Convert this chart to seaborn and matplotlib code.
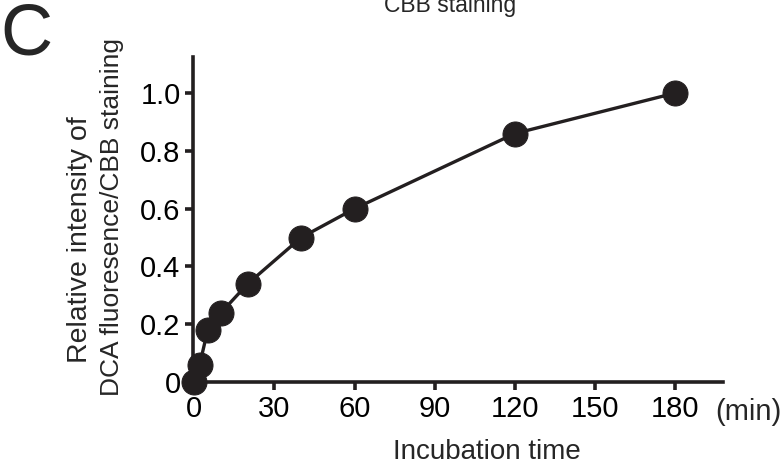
import matplotlib
matplotlib.use('Agg')
import matplotlib.pyplot as plt
import pandas as pd
import seaborn as sns

# Data
time_min = [0, 2, 5, 10, 20, 40, 60, 120, 180]
rel_intensity = [0.0, 0.06, 0.18, 0.24, 0.34, 0.50, 0.60, 0.86, 1.0]
x_ticks = [0, 30, 60, 90, 120, 150, 180]
y_ticks = [0, 0.2, 0.4, 0.6, 0.8, 1.0]
y_ticklabels = ['0', '0.2', '0.4', '0.6', '0.8', '1.0']

df = pd.DataFrame({'Time': time_min, 'Intensity': rel_intensity})

sns.set_style('ticks')
plt.rcParams['font.family'] = ['Liberation Sans', 'DejaVu Sans']

ink = '#231f20'
fig = plt.figure(figsize=(7.83, 4.69), dpi=100)
ax = fig.add_axes([0.2465, 0.1855, 0.677, 0.693])

sns.lineplot(x='Time', y='Intensity', data=df, ax=ax, color=ink, linewidth=2.4,
             marker='o', markersize=18, markeredgecolor=ink, markerfacecolor=ink)

ax.set_xlim(-0.5, 198)
ax.set_ylim(0, 1.125)
ax.set_xticks(x_ticks)
ax.set_yticks(y_ticks)
ax.set_yticklabels(y_ticklabels)
ax.tick_params(axis='both', direction='out', length=6, width=2.6, color=ink,
               labelsize=21, labelcolor='black', pad=3)
for side in ['left', 'bottom']:
    ax.spines[side].set_linewidth(2.6)
    ax.spines[side].set_color(ink)
sns.despine(ax=ax)
for ln in ax.lines:
    ln.set_clip_on(False)

ax.set_xlabel('Incubation time', fontsize=20)
ax.xaxis.set_label_coords(0.555, -0.175)
ax.set_ylabel('')

# two-line y label, lines placed separately as in the reference
fig.text(80 / 783, 1 - 240 / 469, 'Relative intensity of', fontsize=20.5,
         rotation=90, ha='center', va='center')
fig.text(112 / 783, 1 - 217 / 469, 'DCA fluoresence/CBB staining', fontsize=19,
         rotation=90, ha='center', va='center')

fig.text(0.914, 0.121, '(min)', fontsize=21, ha='left', va='center')
fig.text(0.575, 1.012, 'CBB staining', fontsize=16.5, ha='center', va='top')
fig.text(0.0, 0.995, 'C', fontsize=52, ha='left', va='top')

fig.savefig('out.png', dpi=100)
